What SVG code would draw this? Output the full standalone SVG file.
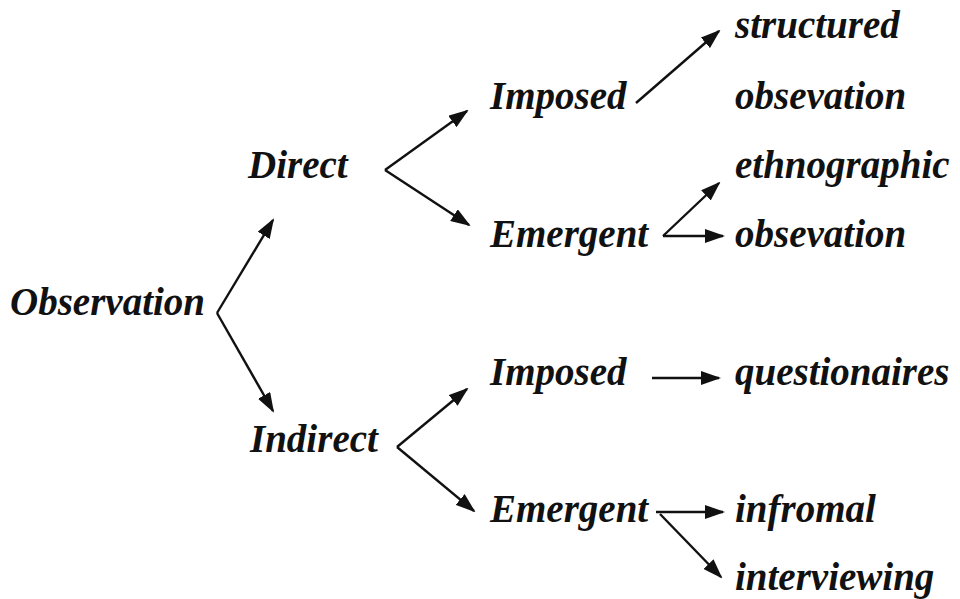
<svg xmlns="http://www.w3.org/2000/svg" width="960" height="599" viewBox="0 0 960 599">
<style>
text{font-family:"Liberation Serif","Times New Roman",serif;font-style:italic;font-weight:bold;font-size:39px;fill:#111}
.c{stroke:#111;stroke-width:2.4;fill:none;marker-end:url(#a)}
</style>
<defs>
<marker id="a" viewBox="0 0 20 14" refX="18" refY="7" markerWidth="20" markerHeight="14" markerUnits="userSpaceOnUse" orient="auto">
<path d="M0,0 L20,7 L0,14 z" fill="#111"/>
</marker>
</defs>
<rect width="960" height="599" fill="#fff"/>
<g id="n-observation"><text x="10" y="315">Observation</text></g>
<g id="n-direct"><text x="248" y="178">Direct</text></g>
<g id="n-indirect"><text x="250" y="452">Indirect</text></g>
<g id="n-imposed1"><text x="490" y="109">Imposed</text></g>
<g id="n-emergent1"><text x="490" y="247">Emergent</text></g>
<g id="n-imposed2"><text x="490" y="385">Imposed</text></g>
<g id="n-emergent2"><text x="490" y="522">Emergent</text></g>
<g id="n-structured"><text x="735" y="38">structured</text><text x="735" y="109">obsevation</text></g>
<g id="n-ethnographic"><text x="735" y="178">ethnographic</text><text x="735" y="247">obsevation</text></g>
<g id="n-questionaires"><text x="735" y="385">questionaires</text></g>
<g id="n-informal"><text x="735" y="522">infromal</text><text x="735" y="590">interviewing</text></g>
<g id="connectors">
<path class="c" d="M217,313 L273,220"/>
<path class="c" d="M217,313 L273,411"/>
<path class="c" d="M385,170 L467,111"/>
<path class="c" d="M385,170 L469,225"/>
<path class="c" d="M636,103 L719,31"/>
<path class="c" d="M663,236 L719,183"/>
<path class="c" d="M663,236 L723,236"/>
<path class="c" d="M397,447 L467,389"/>
<path class="c" d="M397,447 L474,511"/>
<path class="c" d="M652,378 L719,378"/>
<path class="c" d="M656,512 L723,512"/>
<path class="c" d="M660,514 L721,577"/>
</g>
</svg>
